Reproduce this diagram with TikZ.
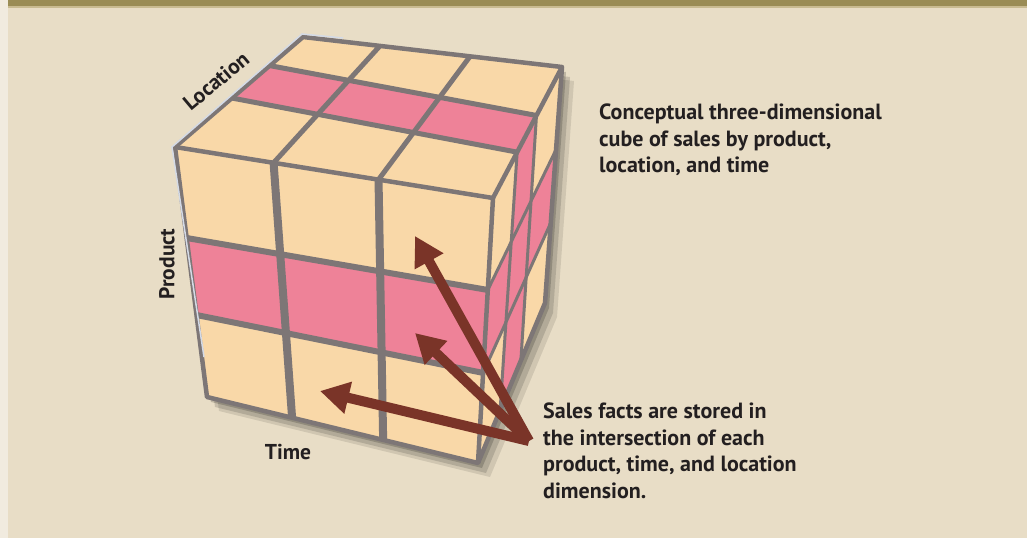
\documentclass[tikz,border=0pt]{standalone}
\usepackage{fontspec}
\setmainfont{PT Sans}
\usetikzlibrary{arrows.meta,calc}

\definecolor{sand}{HTML}{E8DDC6}
\definecolor{paper}{HTML}{F1EBDF}
\definecolor{olive}{HTML}{9A8C55}
\definecolor{oliveline}{HTML}{C9BB91}
\definecolor{peach}{HTML}{F9D8A8}
\definecolor{rose}{HTML}{EE8298}
\definecolor{seamgray}{HTML}{7D7676}
\definecolor{glint}{HTML}{D4DAE6}
\definecolor{rust}{HTML}{7A3428}
\definecolor{ink}{HTML}{231F20}

\begin{document}
\begin{tikzpicture}[x=1pt, y=-1pt,
    seam/.style = {draw=seamgray, line width=5pt},
    rim/.style = {draw=seamgray, line width=4.5pt, line join=round},
    pointer/.style = {draw=rust, line width=10pt,
      -{Triangle[length=29pt, width=31pt]}},
    axis/.style = {font=\fontsize{21.5}{24}\selectfont\bfseries, text=ink,
      inner sep=0pt},
    caption/.style = {font=\fontsize{22}{26.5}\selectfont\bfseries, text=ink,
      align=left, inner sep=0pt, anchor=north west}]

  % page
  \fill[sand] (0,0) rectangle (1027,538);
  \fill[paper] (0,0) rectangle (8,538);
  \fill[olive] (8,0) rectangle (1027,6);
  \fill[oliveline] (8,6) rectangle (1027,7.5);

  % cube corners
  \coordinate (ftl) at (175,147);
  \coordinate (ftr) at (493,198);
  \coordinate (fbr) at (478,463);
  \coordinate (fbl) at (207,397);
  \coordinate (btl) at (303,37);
  \coordinate (btr) at (562,67);
  \coordinate (bbr) at (545,303);

  % soft shadow
  \foreach \dx/\dy/\op in {12/14/0.10, 8/10/0.14, 4/5/0.18}
    \fill[black, opacity=\op] ($(ftl)+(\dx,\dy)$) -- ($(btl)+(\dx,\dy)$)
      -- ($(btr)+(\dx,\dy)$) -- ($(bbr)+(\dx,\dy)$) -- ($(fbr)+(\dx,\dy)$)
      -- ($(fbl)+(\dx,\dy)$) -- cycle;

  % top face
  \fill[peach] (ftl) -- (ftr) -- (btr) -- (btl) -- cycle;
  \fill[rose] ($(ftl)!0.445!(btl)$) -- ($(ftl)!0.74!(btl)$)
    -- ($(ftr)!0.63!(btr)$) -- ($(ftr)!0.35!(btr)$) -- cycle;

  % front face
  \fill[peach] (ftl) -- (ftr) -- (fbr) -- (fbl) -- cycle;
  \fill[rose] ($(ftl)!0.364!(fbl)$) -- ($(ftl)!0.672!(fbl)$)
    -- ($(ftr)!0.66!(fbr)$) -- ($(ftr)!0.347!(fbr)$) -- cycle;

  % right face
  \fill[peach] (ftr) -- (btr) -- (bbr) -- (fbr) -- cycle;
  \fill[rose] ($(ftr)!0.35!(btr)$) -- ($(ftr)!0.63!(btr)$)
    -- ($(fbr)!0.64!(bbr)$) -- ($(fbr)!0.33!(bbr)$) -- cycle;
  \fill[rose] ($(ftr)!0.347!(fbr)$) -- ($(btr)!0.35!(bbr)$)
    -- ($(btr)!0.66!(bbr)$) -- ($(ftr)!0.66!(fbr)$) -- cycle;

  % seams
  \foreach \s/\t in {0.31/0.314, 0.64/0.65}
    \draw[seam, line width=8pt] ($(ftl)!\s!(ftr)$) -- ($(fbl)!\t!(fbr)$);
  \foreach \s/\t in {0.364/0.347, 0.672/0.66}
    \draw[seam, line width=6pt] ($(ftl)!\s!(fbl)$) -- ($(ftr)!\t!(fbr)$);
  \foreach \s/\t in {0.31/0.297, 0.64/0.645}
    \draw[seam] ($(ftl)!\s!(ftr)$) -- ($(btl)!\t!(btr)$);
  \foreach \s/\t in {0.445/0.35, 0.74/0.63}
    \draw[seam] ($(ftl)!\s!(btl)$) -- ($(ftr)!\t!(btr)$);
  \foreach \s/\t in {0.35/0.33, 0.63/0.64}
    \draw[seam, line width=3pt] ($(ftr)!\s!(btr)$) -- ($(fbr)!\t!(bbr)$);
  \foreach \s/\t in {0.347/0.35, 0.66/0.66}
    \draw[seam, line width=3pt] ($(ftr)!\s!(fbr)$) -- ($(btr)!\t!(bbr)$);

  % outline
  \draw[rim] (ftl) -- (btl) -- (btr) -- (bbr) -- (fbr) -- (fbl) -- cycle;
  \draw[rim] (ftl) -- (ftr) -- (btr);
  \draw[rim] (ftr) -- (fbr);
  \draw[glint, line width=1.5pt] ($(fbl)+(-3,-40)$) -- ($(ftl)+(-3,0)$)
    -- ($(btl)+(-1,-3)$) -- ($(btl)+(40,1)$);

  % axis labels
  \node[axis, rotate=40] (loc) at (216,81) {Location};
  \node[axis, rotate=90] (prod) at (167,264) {Product};
  \node[axis] (time) at (288,452) {Time};

  % captions
  \node[caption] (cube) at (599,104)
    {Conceptual three-dimensional\\cube of sales by product,\\location, and time};
  \node[caption] (facts) at (543,403)
    {Sales facts are stored in\\the intersection of each\\product, time, and location\\dimension.};

  % arrows into the cells
  \coordinate (hub) at (529,441);
  \coordinate (upper) at (415,236);
  \coordinate (middle) at (415,333);
  \coordinate (lower) at (320,391);
  \draw[pointer] (hub) -- (upper);
  \draw[pointer] (hub) -- (middle);
  \draw[pointer] (hub) -- (lower);
\end{tikzpicture}
\end{document}
